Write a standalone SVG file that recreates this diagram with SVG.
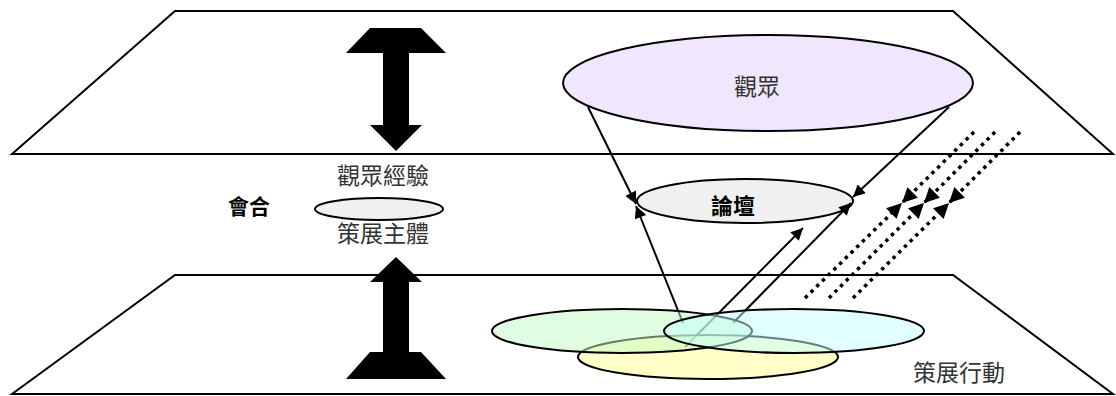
<svg xmlns="http://www.w3.org/2000/svg" width="1116" height="396" viewBox="0 0 1116 396">
<style>
.plane{fill:#fff;stroke:#000;stroke-width:2}
.big{fill:#000}
.lbl{font-family:"Noto Sans CJK TC","Noto Sans CJK SC",sans-serif;font-size:23px;fill:#333}
.bold{font-family:"Noto Sans CJK TC","Noto Sans CJK SC",sans-serif;font-weight:bold;fill:#000}
.conn{stroke:#000;stroke-width:2;fill:none;marker-end:url(#ah)}
.dot{stroke:#000;stroke-width:3.5;fill:none;stroke-dasharray:3.5 4.5;marker-end:url(#dh)}
.lower{stroke:#000;stroke-width:2;fill-opacity:0.5}
</style>
<defs>
<marker id="ah" viewBox="0 0 10 10" refX="10" refY="5" markerWidth="15" markerHeight="12" markerUnits="userSpaceOnUse" orient="auto">
<path d="M0,0 L10,5 L0,10 z" fill="#000"/>
</marker>
<marker id="dh" viewBox="0 0 10 10" refX="10" refY="5" markerWidth="15" markerHeight="15" markerUnits="userSpaceOnUse" orient="auto">
<path d="M0,0 L10,5 L0,10 z" fill="#000"/>
</marker>
</defs>
<g id="plane-top"><polygon class="plane" points="12,154 175,11 953,11 1113,154"/></g>
<g id="plane-bottom"><polygon class="plane" points="12,394 175,275 953,275 1113,394"/></g>
<g id="arrow-top"><polygon class="big" points="370,28 421,28 446,53 409,53 409,125 422,125 396,151 370,125 383,125 383,53 346,53"/></g>
<g id="arrow-bottom"><polygon class="big" points="396,257 422,282 409,282 409,352 421,352 446,379 346,379 370,352 383,352 383,282 370,282"/></g>
<g id="node-audience"><ellipse cx="768" cy="83" rx="205" ry="48" fill="#f0e6fe" stroke="#000" stroke-width="2"/><text class="lbl" x="757" y="95" text-anchor="middle">觀眾</text></g>
<g id="node-forum"><ellipse cx="745" cy="201" rx="108" ry="22" fill="#f0f0f0" stroke="#000" stroke-width="2"/><text class="bold" x="733" y="214" font-size="22" text-anchor="middle">論壇</text></g>
<g id="connectors">
<line class="conn" x1="588" y1="107" x2="636" y2="204"/>
<line class="conn" x1="949" y1="107" x2="853" y2="197"/>
<line class="conn" x1="683" y1="323" x2="636" y2="206"/>
<line class="conn" x1="685" y1="347" x2="803" y2="228"/>
<line class="conn" x1="733" y1="323" x2="851" y2="203"/>
<line class="dot" x1="974" y1="132" x2="902" y2="203"/>
<line class="dot" x1="805" y1="298" x2="902" y2="203"/>
<line class="dot" x1="995" y1="132" x2="924" y2="203"/>
<line class="dot" x1="829" y1="298" x2="924" y2="203"/>
<line class="dot" x1="1020" y1="132" x2="949" y2="203"/>
<line class="dot" x1="853" y1="298" x2="949" y2="203"/>
</g>
<g id="node-action-yellow"><ellipse class="lower" cx="708" cy="357" rx="130" ry="22" fill="#ffff90"/></g>
<g id="node-action-green"><ellipse class="lower" cx="622" cy="331" rx="130" ry="22" fill="#c4fcc4"/></g>
<g id="node-action-blue"><ellipse class="lower" cx="794" cy="331" rx="130" ry="22" fill="#c4ffff"/></g>
<g id="node-subject"><ellipse cx="379" cy="209" rx="64" ry="11" fill="#f0f0f0" stroke="#000" stroke-width="2"/></g>
<g id="labels">
<text class="lbl" x="337" y="184">觀眾經驗</text>
<text class="lbl" x="337" y="242">策展主體</text>
<text class="bold" x="228" y="214" font-size="21">會合</text>
<text class="lbl" x="913" y="381">策展行動</text>
</g>
</svg>
